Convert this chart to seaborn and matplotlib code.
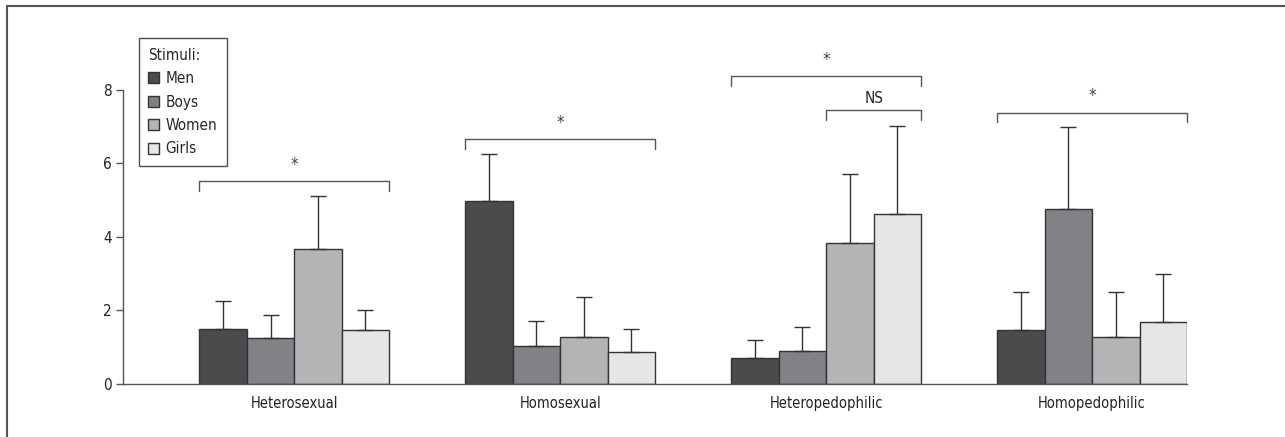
import matplotlib
matplotlib.use("Agg")
import matplotlib.pyplot as plt
from matplotlib.lines import Line2D
import seaborn as sns
import pandas as pd

# data
groups = ["Heterosexual", "Homosexual", "Heteropedophilic", "Homopedophilic"]
stimuli = ["Men", "Boys", "Women", "Girls"]
means = {
    "Men":   [1.49, 4.97, 0.71, 1.45],
    "Boys":  [1.24, 1.02, 0.88, 4.75],
    "Women": [3.66, 1.27, 3.82, 1.26],
    "Girls": [1.45, 0.85, 4.63, 1.67],
}
upper = {
    "Men":   [2.25, 6.25, 1.19, 2.50],
    "Boys":  [1.87, 1.70, 1.55, 6.98],
    "Women": [5.11, 2.37, 5.70, 2.50],
    "Girls": [2.00, 1.50, 7.02, 2.98],
}
colors = ["#4b4b4d", "#818285", "#b3b4b6", "#e5e6e7"]

# significance brackets: (group, first stimulus, last stimulus, height, label)
brackets = [
    (0, "Men", "Girls", 5.52, "*"),
    (1, "Men", "Girls", 6.65, "*"),
    (2, "Men", "Girls", 8.36, "*"),
    (2, "Women", "Girls", 7.44, "NS"),
    (3, "Men", "Girls", 7.38, "*"),
]

rows = []
for s in stimuli:
    for g, m in zip(groups, means[s]):
        rows.append({"group": g, "stimulus": s, "value": m})
df = pd.DataFrame(rows)

sns.set_style("white")
plt.rcParams["font.family"] = ["DejaVu Sans"]
plt.rcParams["font.stretch"] = "condensed"

W, H = 1285, 437
fig = plt.figure(figsize=(W / 100, H / 100), dpi=100)
ax = fig.add_axes([123 / W, 53.3 / H, (1187 - 123) / W, (383.7 - 34.6) / H])

sns.barplot(data=df, x="group", y="value", hue="stimulus", order=groups,
            hue_order=stimuli, palette=colors, width=0.714, errorbar=None,
            edgecolor="#333333", linewidth=1.0, saturation=1, ax=ax)

edge = "#555555"
# upper-only error bars
bar_pos = {}
for s, cont in zip(stimuli, ax.containers):
    for gi, bar in enumerate(cont):
        x = bar.get_x() + bar.get_width() / 2
        bar_pos[(gi, s)] = (bar.get_x(), bar.get_x() + bar.get_width())
        m = means[s][gi]
        ax.errorbar(x, m, yerr=[[0], [upper[s][gi] - m]], fmt="none",
                    ecolor="#333333", elinewidth=1.0, capsize=6, capthick=1.0,
                    zorder=1)

for gi, s0, s1, h, lab in brackets:
    x0 = bar_pos[(gi, s0)][0]
    x1 = bar_pos[(gi, s1)][1]
    ax.plot([x0, x0, x1, x1], [h - 0.27, h, h, h - 0.27], color=edge,
            lw=1.0, clip_on=False)
    if lab == "*":
        ax.text((x0 + x1) / 2, h + 0.2, lab, ha="center", va="bottom",
                fontsize=12, color="#444444")
    else:
        ax.text((x0 + x1) / 2, h + 0.12, lab, ha="center", va="bottom",
                fontsize=11, color="#222222")

ax.set_xlim(-0.644, 3.357)
ax.set_ylim(0, 9.5)
ax.set_yticks([0, 2, 4, 6, 8])
ax.spines["left"].set_bounds(0, 8)
for sp in ["top", "right"]:
    ax.spines[sp].set_visible(False)
for sp in ["left", "bottom"]:
    ax.spines[sp].set_color(edge)
    ax.spines[sp].set_linewidth(1.0)
ax.tick_params(axis="y", left=True, length=5, width=1.0, color=edge,
               labelsize=11, pad=3, labelcolor="#222222")
ax.tick_params(axis="x", bottom=False, labelsize=10.5, pad=5,
               labelcolor="#222222")
ax.set_xlabel("")
ax.set_ylabel("")

leg = ax.legend(title="Stimuli:", loc="upper left",
                bbox_to_anchor=(138.7 / W, 1 - 38.3 / H),
                bbox_transform=fig.transFigure, borderaxespad=0,
                fancybox=False, frameon=True, edgecolor="#222222",
                fontsize=11, title_fontsize=11, handlelength=0.74,
                handleheight=0.74, handletextpad=0.4, labelspacing=0.55,
                borderpad=0.62, alignment="left")
leg.get_frame().set_linewidth(1.0)

# outer frame of the figure panel
fig.add_artist(Line2D([7 / W, 7 / W], [0, 1 - 5.5 / H], color=edge, lw=1.5,
                      transform=fig.transFigure))
fig.add_artist(Line2D([7 / W, 1], [1 - 5.5 / H, 1 - 5.5 / H], color=edge,
                      lw=1.5, transform=fig.transFigure))

fig.savefig("out.png", dpi=100)
